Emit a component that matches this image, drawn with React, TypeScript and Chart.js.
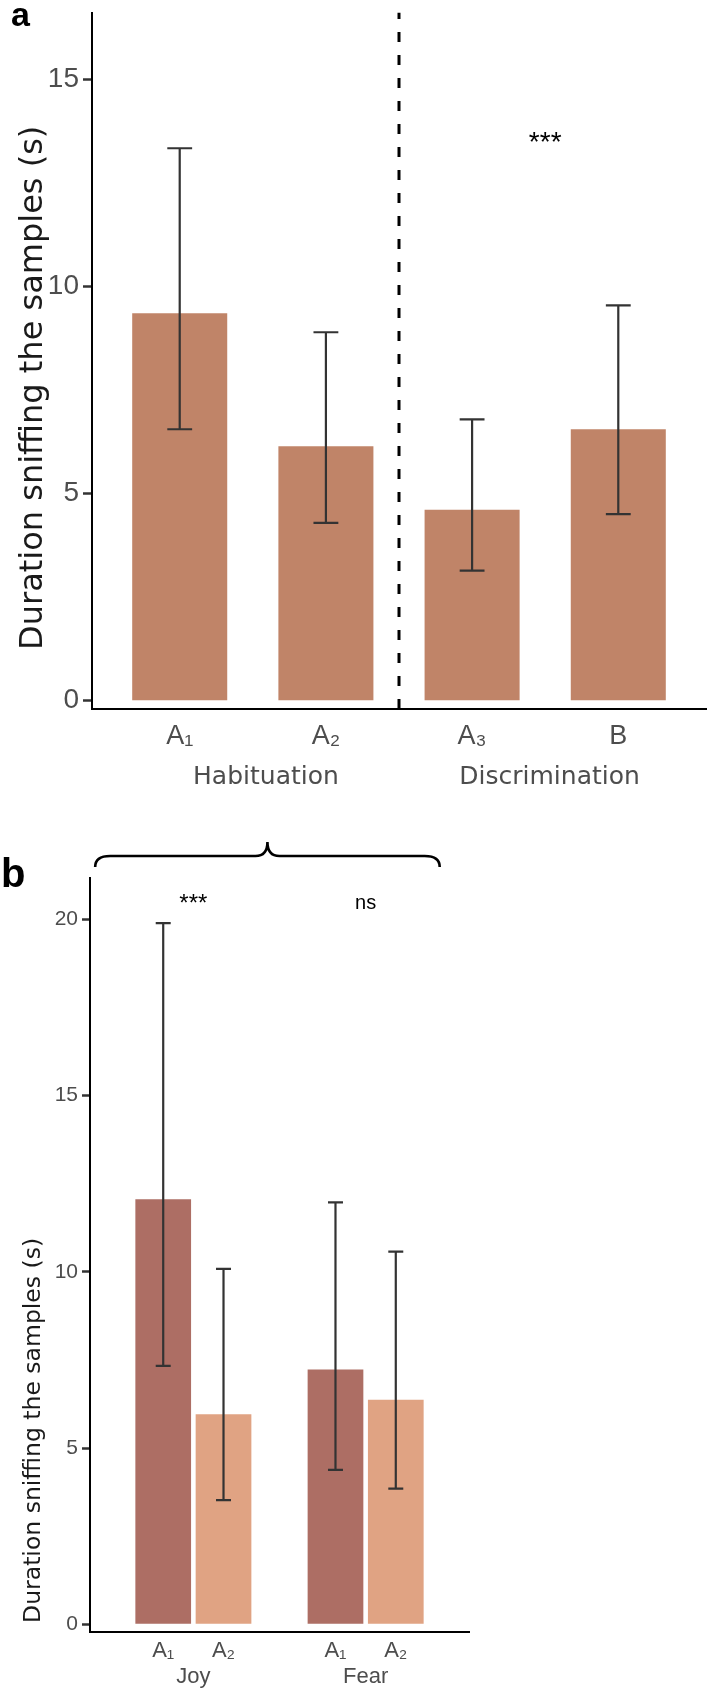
import { useEffect, useRef } from 'react';
import { Chart, registerables } from 'chart.js';

Chart.register(...registerables);

// ---- panel a: habituation / discrimination ----
const catsA = ['A₁', 'A₂', 'A₃', 'B'];
const groupsA = ['Habituation', 'Discrimination'];
const meanA = [9.35, 6.14, 4.61, 6.55];
const lowA = [6.55, 4.29, 3.14, 4.5];
const highA = [13.33, 8.89, 6.79, 9.54];
const yTicksA = [0, 5, 10, 15];
const sigA = [{ x: 2.5, y: 13.26, text: '***' }];
const dividerA = 1.5;

// ---- panel b: joy / fear ----
const groupsB = ['Joy', 'Fear'];
const seriesB = ['A₁', 'A₂'];
const meanB = [
  [12.06, 7.23],
  [5.96, 6.37],
];
const lowB = [
  [7.33, 4.38],
  [3.52, 3.85],
];
const highB = [
  [19.89, 11.97],
  [10.08, 10.57],
];
const yTicksB = [0, 5, 10, 15, 20];
const sigB = [
  { x: 0, y: 20.24, text: '***' },
  { x: 1, y: 20.3, text: 'ns' },
];
const braceB = [-0.57, 1.43];

const SANS = "'Liberation Sans', Arial, sans-serif";
const NARROW = "'Liberation Sans Narrow', 'Liberation Sans', Arial, sans-serif";
const DEJAVU = "'DejaVu Sans', sans-serif";
const GREY = '#4d4d4d';
const TITLE = 'Duration sniffing the samples (s)';

// where the group captions under panel a sit on its x axis (they are not quite centred in the original)
const groupLabelAtA = [0.59, 2.53];

function errorBars(lows: number[][], highs: number[][], capUnits: number) {
  return {
    id: 'errorBars',
    afterDatasetsDraw(chart: any) {
      const { ctx } = chart;
      const ys = chart.scales.y;
      const xs = chart.scales.x;
      const half = (xs.getPixelForValue(capUnits) - xs.getPixelForValue(0)) / 2;
      ctx.save();
      ctx.strokeStyle = '#333';
      ctx.lineWidth = 2.2;
      chart.data.datasets.forEach((_: any, i: number) => {
        chart.getDatasetMeta(i).data.forEach((bar: any, j: number) => {
          const x = bar.x;
          const y1 = ys.getPixelForValue(lows[i][j]);
          const y2 = ys.getPixelForValue(highs[i][j]);
          ctx.beginPath();
          ctx.moveTo(x, y1);
          ctx.lineTo(x, y2);
          ctx.moveTo(x - half, y1);
          ctx.lineTo(x + half, y1);
          ctx.moveTo(x - half, y2);
          ctx.lineTo(x + half, y2);
          ctx.stroke();
        });
      });
      ctx.restore();
    },
  };
}

function notes(items: { x: number; y: number; text: string }[], font: (t: string) => string) {
  return {
    id: 'notes',
    afterDraw(chart: any) {
      const { ctx } = chart;
      ctx.save();
      ctx.fillStyle = '#000';
      ctx.textAlign = 'center';
      ctx.textBaseline = 'alphabetic';
      items.forEach((n) => {
        ctx.font = font(n.text);
        ctx.fillText(n.text, chart.scales.x.getPixelForValue(n.x), chart.scales.y.getPixelForValue(n.y));
      });
      ctx.restore();
    },
  };
}

// rotated y-axis title, centred on a given y value
function yTitle(text: string, font: string, baselineX: number, centreValue: number) {
  return {
    id: 'yTitle',
    afterDraw(chart: any) {
      const { ctx } = chart;
      const cy = chart.scales.y.getPixelForValue(centreValue);
      ctx.save();
      ctx.translate(baselineX, cy);
      ctx.rotate(-Math.PI / 2);
      ctx.font = font;
      ctx.fillStyle = '#1a1a1a';
      ctx.textAlign = 'center';
      ctx.textBaseline = 'alphabetic';
      ctx.fillText(text, 0, 0);
      ctx.restore();
    },
  };
}

const panelAExtras = {
  id: 'panelAExtras',
  afterDraw(chart: any) {
    const { ctx, chartArea } = chart;
    const x = chart.scales.x.getPixelForValue(dividerA);
    ctx.save();
    ctx.strokeStyle = '#000';
    ctx.lineWidth = 3;
    ctx.setLineDash([10, 13]);
    ctx.beginPath();
    ctx.moveTo(x, chartArea.bottom);
    ctx.lineTo(x, chartArea.top);
    ctx.stroke();
    ctx.setLineDash([]);
    ctx.fillStyle = '#000';
    ctx.font = `bold 34px ${SANS}`;
    ctx.fillText('a', 11, 26);
    ctx.restore();
  },
};

const panelBExtras = {
  id: 'panelBExtras',
  afterDraw(chart: any) {
    const { ctx, chartArea } = chart;
    const xs = chart.scales.x;
    const x0 = xs.getPixelForValue(braceB[0]);
    const x1 = xs.getPixelForValue(braceB[1]);
    const xm = (x0 + x1) / 2;
    const yl = chartArea.top - 22;
    ctx.save();
    ctx.strokeStyle = '#000';
    ctx.lineWidth = 2.6;
    ctx.beginPath();
    ctx.moveTo(x0, yl + 11);
    ctx.quadraticCurveTo(x0, yl, x0 + 15, yl);
    ctx.lineTo(xm - 12, yl);
    ctx.quadraticCurveTo(xm, yl, xm, yl - 14);
    ctx.quadraticCurveTo(xm, yl, xm + 12, yl);
    ctx.lineTo(x1 - 15, yl);
    ctx.quadraticCurveTo(x1, yl, x1, yl + 11);
    ctx.stroke();
    ctx.fillStyle = '#000';
    ctx.font = `bold 40px ${SANS}`;
    ctx.fillText('b', 1, 87);
    ctx.restore();
  },
};

function PanelA() {
  const ref = useRef<HTMLCanvasElement | null>(null);

  useEffect(() => {
    if (!ref.current) return;
    const chart = new Chart(ref.current, {
      type: 'bar',
      data: {
        datasets: [
          {
            data: meanA.map((v, i) => ({ x: i, y: v })),
            backgroundColor: '#c08468',
            borderWidth: 0,
            categoryPercentage: 1,
            barPercentage: 0.65,
          },
        ],
      },
      options: {
        animation: false,
        responsive: true,
        maintainAspectRatio: false,
        layout: { padding: { top: 12.7, right: 2, left: 0, bottom: 0 } },
        plugins: { legend: { display: false }, tooltip: { enabled: false } },
        scales: {
          x: {
            type: 'linear',
            offset: false,
            bounds: 'data',
            min: -0.6,
            max: 3.6,
            weight: 0,
            afterBuildTicks: (ax: any) => {
              ax.ticks = catsA.map((_, i) => ({ value: i }));
            },
            afterFit: (ax: any) => {
              ax.height = 45;
              ax.paddingLeft = 0;
              ax.paddingRight = 0;
            },
            grid: { display: false, drawTicks: false, offset: false },
            border: { display: true, color: '#000', width: 2 },
            ticks: {
              callback: (_v: any, i: number) => catsA[i],
              color: GREY,
              font: { family: SANS, size: 27 },
              padding: 11,
              autoSkip: false,
              maxRotation: 0,
            },
          },
          x2: {
            type: 'linear',
            position: 'bottom',
            offset: false,
            bounds: 'data',
            min: -0.6,
            max: 3.6,
            weight: 1,
            afterBuildTicks: (ax: any) => {
              ax.ticks = groupLabelAtA.map((v) => ({ value: v }));
            },
            afterFit: (ax: any) => {
              ax.height = 46;
              ax.paddingLeft = 0;
              ax.paddingRight = 0;
            },
            grid: { display: false, drawTicks: false },
            border: { display: false },
            ticks: {
              callback: (_v: any, i: number) => groupsA[i],
              color: GREY,
              font: { family: DEJAVU, size: 25 },
              padding: 8,
              autoSkip: false,
              maxRotation: 0,
            },
          },
          y: {
            bounds: 'data',
            min: -0.2,
            max: 16.6,
            afterBuildTicks: (ax: any) => {
              ax.ticks = yTicksA.map((v) => ({ value: v }));
            },
            afterFit: (ax: any) => {
              ax.width = 92;
              ax.paddingTop = 0;
              ax.paddingBottom = 0;
            },
            grid: { display: true, drawOnChartArea: false, drawTicks: true, tickLength: 9, tickColor: '#333', tickWidth: 2.5 },
            border: { display: true, color: '#000', width: 2 },
            ticks: { color: GREY, font: { family: NARROW, size: 28 }, padding: 4 },
          },
        },
      },
      plugins: [
        errorBars([lowA], [highA], 0.17),
        notes(sigA, () => `28px ${SANS}`),
        yTitle(TITLE, `32px ${DEJAVU}`, 42, 7.55),
        panelAExtras,
      ],
    } as any);
    return () => chart.destroy();
  }, []);

  return (
    <div style={{ position: 'absolute', left: 0, top: 0, width: 708, height: 800 }}>
      <canvas ref={ref} />
    </div>
  );
}

function PanelB() {
  const ref = useRef<HTMLCanvasElement | null>(null);

  useEffect(() => {
    if (!ref.current) return;
    const dodge = 0.7;
    const chart = new Chart(ref.current, {
      type: 'bar',
      data: {
        datasets: seriesB.map((name, s) => ({
          label: name,
          data: meanB[s].map((v, g) => ({ x: g, y: v })),
          backgroundColor: s === 0 ? '#ad6e64' : '#e0a383',
          borderWidth: 0,
          categoryPercentage: dodge,
          barPercentage: 0.924,
        })),
      },
      options: {
        animation: false,
        responsive: true,
        maintainAspectRatio: false,
        layout: { padding: { top: 78, right: 239, left: 0, bottom: 0 } },
        plugins: { legend: { display: false }, tooltip: { enabled: false } },
        scales: {
          x: {
            type: 'linear',
            offset: false,
            bounds: 'data',
            min: -0.6,
            max: 1.6,
            weight: 1,
            afterBuildTicks: (ax: any) => {
              ax.ticks = groupsB.map((_, g) => ({ value: g }));
            },
            afterFit: (ax: any) => {
              ax.height = 32.3;
              ax.paddingLeft = 0;
              ax.paddingRight = 0;
            },
            grid: { display: false, drawTicks: false, offset: false },
            border: { display: false },
            ticks: {
              callback: (_v: any, i: number) => groupsB[i],
              color: GREY,
              font: { family: SANS, size: 22 },
              padding: 2,
              autoSkip: false,
              maxRotation: 0,
            },
          },
          x2: {
            type: 'linear',
            position: 'bottom',
            offset: false,
            bounds: 'data',
            min: -0.6,
            max: 1.6,
            weight: 0,
            afterBuildTicks: (ax: any) => {
              const t: { value: number }[] = [];
              groupsB.forEach((_, g) =>
                seriesB.forEach((_s, s) => t.push({ value: g + (s - (seriesB.length - 1) / 2) * (dodge / seriesB.length) })),
              );
              ax.ticks = t;
            },
            afterFit: (ax: any) => {
              ax.height = 30;
              ax.paddingLeft = 0;
              ax.paddingRight = 0;
            },
            grid: { display: false, drawTicks: false },
            border: { display: true, color: '#000', width: 2 },
            ticks: {
              callback: (_v: any, i: number) => seriesB[i % seriesB.length],
              color: GREY,
              font: { family: SANS, size: 22 },
              padding: 6,
              autoSkip: false,
              maxRotation: 0,
            },
          },
          y: {
            bounds: 'data',
            min: -0.21,
            max: 21.17,
            afterBuildTicks: (ax: any) => {
              ax.ticks = yTicksB.map((v) => ({ value: v }));
            },
            afterFit: (ax: any) => {
              ax.width = 90;
              ax.paddingTop = 0;
              ax.paddingBottom = 0;
            },
            grid: { display: true, drawOnChartArea: false, drawTicks: true, tickLength: 8, tickColor: '#333', tickWidth: 2.5 },
            border: { display: true, color: '#000', width: 2 },
            ticks: { color: GREY, font: { family: SANS, size: 21 }, padding: 4 },
          },
        },
      },
      plugins: [
        errorBars(lowB, highB, 0.087),
        notes(sigB, (t) => (t === 'ns' ? `20px ${SANS}` : `24px ${SANS}`)),
        yTitle(TITLE, `23.5px ${DEJAVU}`, 40, 5.5),
        panelBExtras,
      ],
    } as any);
    return () => chart.destroy();
  }, []);

  return (
    <div style={{ position: 'absolute', left: 0, top: 800, width: 708, height: 894 }}>
      <canvas ref={ref} />
    </div>
  );
}

export default function App() {
  return (
    <div style={{ position: 'absolute', left: 0, top: 0, width: 708, height: 1694, background: '#fff' }}>
      <PanelA />
      <PanelB />
    </div>
  );
}
